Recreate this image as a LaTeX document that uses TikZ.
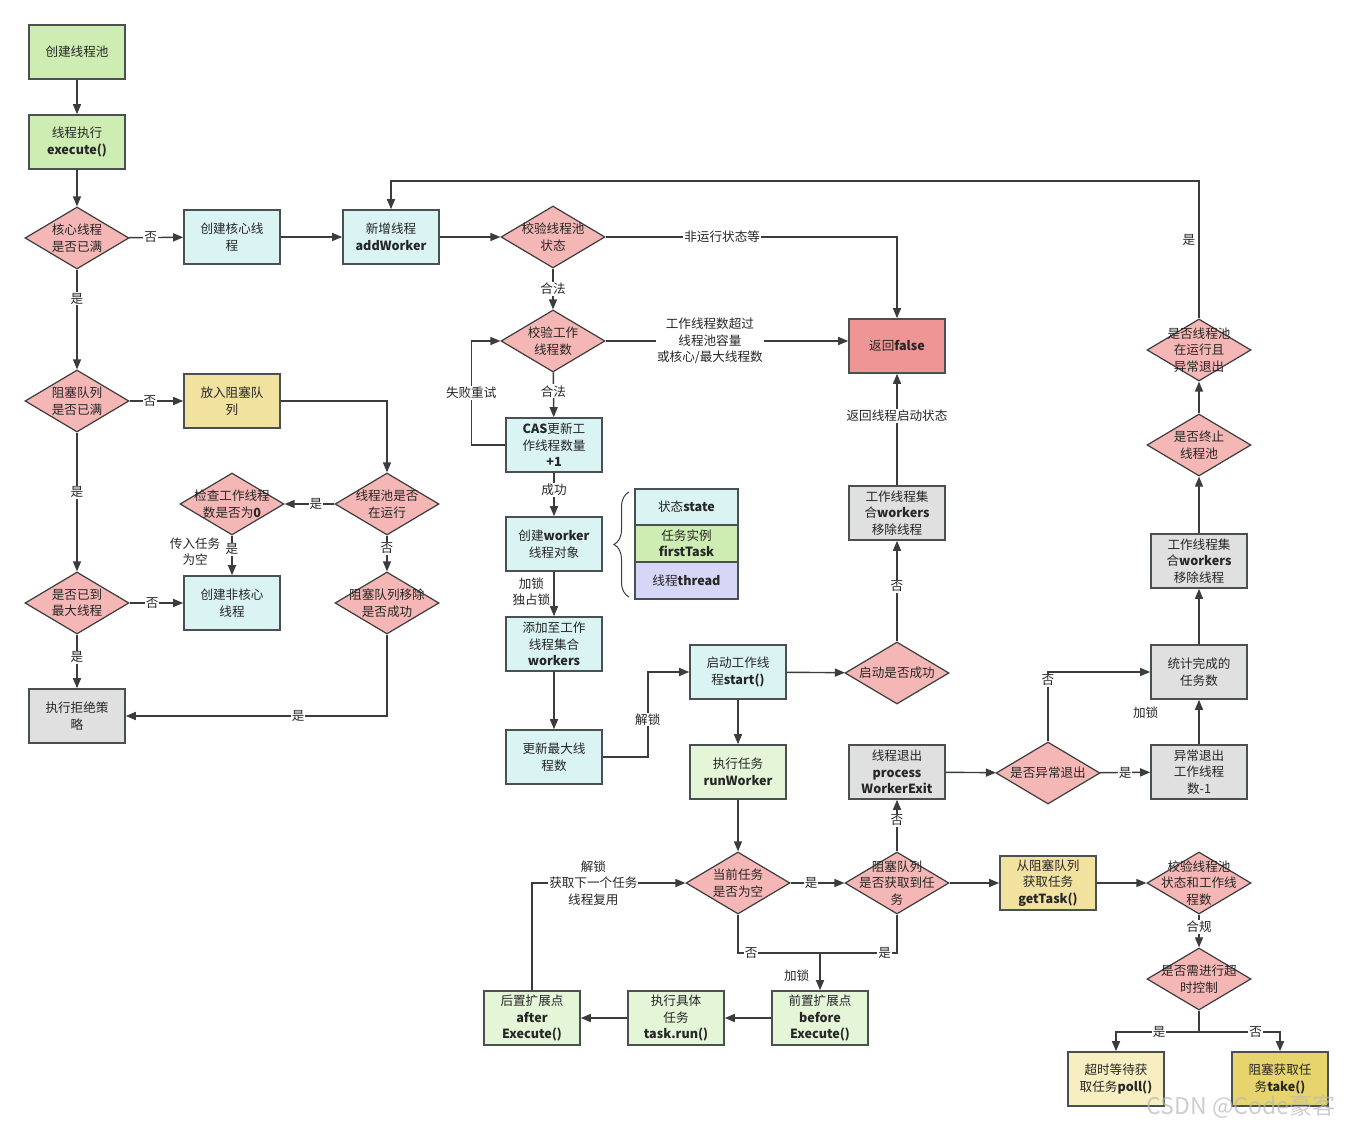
\documentclass[tikz,border=0pt]{standalone}
\usepackage{fontspec}
\setmainfont{Noto Sans CJK SC}
\usetikzlibrary{shapes.geometric,arrows.meta,decorations.pathreplacing,calc}
\definecolor{cgreen}{HTML}{CDEDB2}
\definecolor{ccyan}{HTML}{DAF3F3}
\definecolor{cyel}{HTML}{F1E2A0}
\definecolor{cpink}{HTML}{F4B7B5}
\definecolor{cred}{HTML}{F09595}
\definecolor{cgray}{HTML}{E0E0E0}
\definecolor{clgreen}{HTML}{E4F5D8}
\definecolor{clav}{HTML}{D6D6F6}
\definecolor{cpale}{HTML}{F7EEC1}
\definecolor{cgold}{HTML}{E8D46C}
\definecolor{cline}{HTML}{3C3C3C}
\definecolor{cborder}{HTML}{4A4F52}
\newcommand{\fs}{\fontsize{12.6}{16.5}\selectfont}
\newcommand{\B}[1]{\textbf{#1}}
\tikzset{
  box/.style={draw=cborder, line width=1.6pt, minimum width=96pt, minimum height=54pt, align=center, inner sep=1pt, font=\fs, text=black!85},
  stk/.style={draw=cborder, line width=1.6pt, minimum width=103pt, align=center, inner sep=1pt, font=\fs, text=black!85},
  dia/.style={diamond, draw=cline, line width=1.2pt, fill=cpink, minimum width=104pt, minimum height=62pt, inner sep=0pt},
  dl/.style={align=center, font=\fs, text=black!85, inner sep=0pt},
  arr/.style={draw=cline, line width=1.4pt, -{Triangle[length=10pt,width=8pt]}},
  plain/.style={draw=cline, line width=1.4pt},
  lbl/.style={fill=white, inner sep=1pt, font=\fs, text=black!85, align=center},
  side/.style={inner sep=0pt, font=\fs, text=black!85, align=center}
}
\begin{document}
\begin{tikzpicture}[x=1pt,y=-1pt]
\useasboundingbox[fill=white] (0,0) rectangle (1353,1131);
% ---- left column
\node[box, fill=cgreen] (n1) at (77,52) {创建线程池};
\node[box, fill=cgreen] (n2) at (77,142) {线程执行\\\B{execute()}};
\node[dia, label={[dl]center:核心线程\\是否已满}] (d1) at (77,238) {};
\node[box, fill=ccyan] (n3) at (232,237) {创建核心线\\程};
\node[box, fill=ccyan] (n4) at (391,237) {新增线程\\\B{addWorker}};
\node[dia, label={[dl]center:校验线程池\\状态}] (d2) at (553,237) {};
\node[dia, label={[dl]center:阻塞队列\\是否已满}] (d3) at (77,401) {};
\node[box, fill=cyel] (n5) at (232,401) {放入阻塞队\\列};
\node[dia, label={[dl]center:线程池是否\\在运行}] (d4) at (387,504) {};
\node[dia, label={[dl]center:检查工作线程\\数是否为\B{0}}] (d5) at (232,504) {};
\node[box, fill=ccyan] (n6) at (232,603) {创建非核心\\线程};
\node[dia, label={[dl]center:是否已到\\最大线程}] (d6) at (77,603) {};
\node[dia, label={[dl]center:阻塞队列移除\\是否成功}] (d7) at (387,603) {};
\node[box, fill=cgray] (n7) at (77,716) {执行拒绝策\\略};
% ---- middle
\node[dia, label={[dl]center:校验工作\\线程数}] (d8) at (553,341) {};
\node[box, fill=ccyan] (n8) at (554,445) {\B{CAS}更新工\\作线程数量\\\B{+1}};
\node[box, fill=ccyan] (n9) at (554,544) {创建\B{worker}\\线程对象};
\node[box, fill=ccyan] (n10) at (554,644) {添加至工作\\线程集合\\\B{workers}};
\node[box, fill=ccyan] (n11) at (554,757) {更新最大线\\程数};
\node[stk, fill=ccyan, minimum height=36pt] (s1) at (686.5,507) {状态\B{state}};
\node[stk, fill=cgreen, minimum height=37pt] (s2) at (686.5,543.5) {任务实例\\\B{firstTask}};
\node[stk, fill=clav, minimum height=37pt] (s3) at (686.5,580.5) {线程\B{thread}};
\coordinate (bb) at (629,597);
\coordinate (bt) at (629,492);
\draw[draw=cline, line width=1pt, decorate, decoration={brace, amplitude=15pt, aspect=0.5}] (bb) -- (bt);
\node[box, fill=ccyan] (n12) at (738,672) {启动工作线\\程\B{start()}};
\node[box, fill=clgreen] (n13) at (738,772) {执行任务\\\B{runWorker}};
\node[dia, label={[dl]center:启动是否成功}] (d9) at (897,673) {};
\node[box, fill=cgray] (n14) at (897,513) {工作线程集\\合\B{workers}\\移除线程};
\node[box, fill=cred] (n15) at (897,346) {返回\B{false}};
\node[box, fill=cgray] (n16) at (897,772) {线程退出\\\B{process}\\\B{WorkerExit}};
% ---- right
\node[dia, label={[dl]center:是否异常退出}] (d10) at (1048,773) {};
\node[box, fill=cgray] (n17) at (1199,772) {异常退出\\工作线程\\数-1};
\node[box, fill=cgray] (n18) at (1199,672) {统计完成的\\任务数};
\node[box, fill=cgray] (n19) at (1199,561) {工作线程集\\合\B{workers}\\移除线程};
\node[dia, label={[dl]center:是否终止\\线程池}] (d11) at (1199,445) {};
\node[dia, label={[dl]center:是否线程池\\在运行且\\异常退出}] (d12) at (1199,350) {};
% ---- bottom
\node[dia, label={[dl]center:当前任务\\是否为空}] (d13) at (738,883) {};
\node[dia, label={[dl]center:阻塞队列\\是否获取到任\\务}] (d14) at (897,883) {};
\node[box, fill=cyel] (n20) at (1048,883) {从阻塞队列\\获取任务\\\B{getTask()}};
\node[dia, label={[dl]center:校验线程池\\状态和工作线\\程数}] (d15) at (1199,883) {};
\node[dia, label={[dl]center:是否需进行超\\时控制}] (d16) at (1199,979) {};
\node[box, fill=cpale] (n21) at (1116,1079) {超时等待获\\取任务\B{poll()}};
\node[box, fill=cgold] (n22) at (1280,1079) {阻塞获取任\\务\B{take()}};
\node[box, fill=clgreen] (n23) at (820,1018) {前置扩展点\\\B{before}\\\B{Execute()}};
\node[box, fill=clgreen] (n24) at (676,1018) {执行具体\\任务\\\B{task.run()}};
\node[box, fill=clgreen] (n25) at (532,1018) {后置扩展点\\\B{after}\\\B{Execute()}};
% ---- connectors: left
\draw[arr] (n1) -- (n2);
\draw[arr] (n2) -- (d1);
\draw[arr] (d1) -- node[lbl,pos=0.4]{否} (n3);
\draw[arr] (n3) -- (n4);
\draw[arr] (n4) -- (d2);
\draw[arr] (d1) -- node[lbl,pos=0.29]{是} (d3);
\draw[arr] (d3) -- node[lbl,pos=0.38]{否} (n5);
\draw[arr] (n5.east) -| (d4.north);
\draw[arr] (d4) -- node[lbl,pos=0.37]{是} (d5);
\draw[arr] (d5) -- node[lbl,pos=0.34]{是} node[side,pos=0.4,left=11pt]{传入任务\\为空} (n6);
\draw[arr] (d4) -- node[lbl,pos=0.35]{否} (d7);
\draw[arr] (d7.south) |- node[lbl,pos=0.67]{是} (n7.east);
\draw[arr] (d3) -- node[lbl,pos=0.43]{是} (d6);
\draw[arr] (d6) -- node[lbl,pos=0.42]{否} (n6);
\draw[arr] (d6) -- node[lbl,pos=0.42]{是} (n7);
% ---- connectors: middle
\draw[arr] (d2.east) -| node[lbl,pos=0.2]{非运行状态等} (n15.north);
\draw[arr] (d2) -- node[lbl]{合法} (d8);
\draw[arr] (d8.east) -- node[lbl,pos=0.43]{工作线程数超过\\线程池容量\\或核心/最大线程数} (d8.east -| n15.west);
\draw[arr] (d8) -- node[lbl,pos=0.42]{合法} (n8);
\draw[arr] (n8.west) -- ++(-34,0) |- node[lbl,pos=0.25]{失败重试} (d8.west);
\draw[arr] (n8) -- node[lbl,pos=0.4]{成功} (n9);
\draw[arr] (n9) -- node[side,pos=0.45,left=3pt]{加锁\\独占锁} (n10);
\draw[arr] (n10) -- (n11);
\draw[arr] (n11.east) -- ++(45,0) |- node[lbl,pos=0.22]{解锁} (n12.west);
\draw[arr] (n12) -- (d9);
\draw[arr] (n12) -- (n13);
\draw[arr] (d9) -- node[lbl,pos=0.55]{否} (n14);
\draw[arr] (n14) -- node[lbl,pos=0.62]{返回线程启动状态} (n15);
\draw[arr] (n13) -- (d13);
% ---- connectors: bottom
\draw[arr] (d13) -- node[lbl,pos=0.38]{是} (d14);
\draw[arr] (d14) -- node[lbl,pos=0.6]{否} (n16);
\draw[arr] (d14) -- (n20);
\draw[arr] (n20) -- (d15);
\draw[arr] (d15) -- node[lbl,pos=0.38]{合规} (d16);
\coordinate (j1) at (1199,1032);
\draw[plain] (d16.south) -- (j1);
\draw[arr] (j1) -| node[lbl,pos=0.24]{是} (n21.north);
\draw[arr] (j1) -| node[lbl,pos=0.35]{否} (n22.north);
\coordinate (j2) at (820,953);
\draw[plain] (d13.south) |- node[lbl,pos=0.58]{否} (j2);
\draw[plain] (d14.south) |- node[lbl,pos=0.58]{是} (j2);
\draw[arr] (j2) -- node[side,pos=0.62,left=10pt]{加锁} (n23.north);
\draw[arr] (n23) -- (n24);
\draw[arr] (n24) -- (n25);
\draw[arr] (n25.north) |- node[lbl,pos=0.70]{解锁\\获取下一个任务\\线程复用} (d13.west);
% ---- connectors: right
\draw[arr] (n16) -- (d10);
\draw[arr] (d10) -- node[lbl,pos=0.5]{是} (n17);
\draw[arr] (d10.north) |- node[lbl,pos=0.44]{否} (n18.west);
\draw[arr] (n17) -- node[side,pos=0.7,left=40pt]{加锁} (n18);
\draw[arr] (n18) -- (n19);
\draw[arr] (n19) -- (d11);
\draw[arr] (d11) -- (d12);
\coordinate (top) at (1199,181);
\draw[arr] (d12.north) -- node[side,pos=0.57,left=3pt]{是} (top) -| (n4.north);
% ---- watermark
\node[text=gray!55, opacity=0.7, font=\fontsize{23}{23}\selectfont] (wm) at (1241,1107) {CSDN @Code豪客};
\end{tikzpicture}
\end{document}
